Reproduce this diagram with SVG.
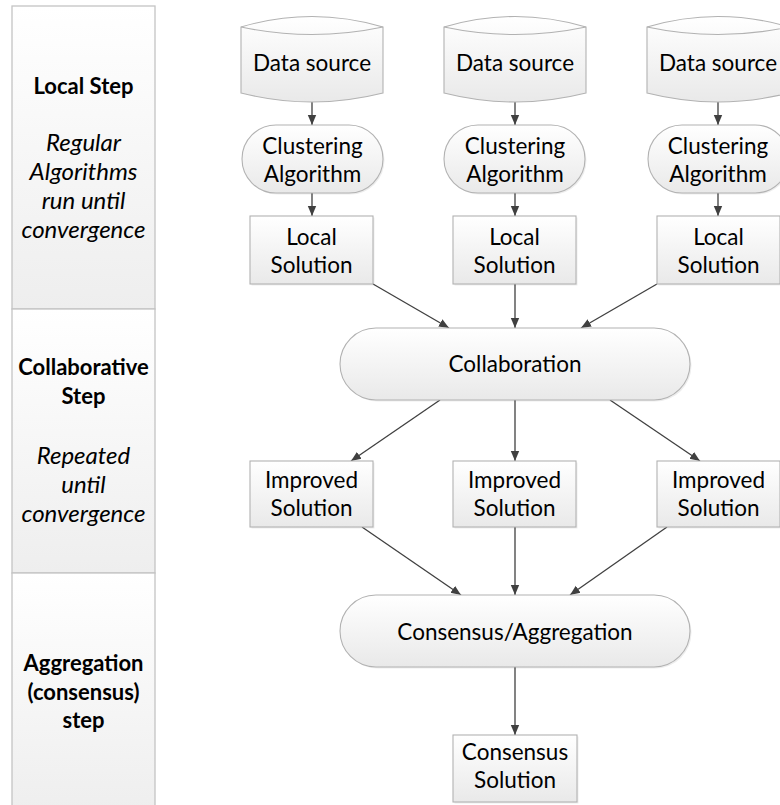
<svg xmlns="http://www.w3.org/2000/svg" width="780" height="805" viewBox="0 0 780 805">
  <defs>
    <linearGradient id="laneFill" x1="0" y1="0" x2="0" y2="1">
      <stop offset="0" stop-color="#ffffff"/>
      <stop offset="1" stop-color="#eeeeee"/>
    </linearGradient>
    <linearGradient id="nodeFill" x1="0" y1="0" x2="0" y2="1">
      <stop offset="0" stop-color="#ffffff"/>
      <stop offset="1" stop-color="#e9e9e9"/>
    </linearGradient>
    <marker id="arrow" viewBox="0 0 10 10" refX="10" refY="5" markerWidth="10" markerHeight="10" markerUnits="userSpaceOnUse" orient="auto">
      <path d="M0,0.8 L10,5 L0,9.2 Z" fill="#404040"/>
    </marker>
  </defs>
  <style>
    .lane { fill: url(#laneFill); stroke: #c4c4c4; stroke-width: 1.3; }
    .node { fill: url(#nodeFill); stroke: #b2b2b2; stroke-width: 1.1; }
    .shadow { fill: #000000; opacity: 0.07; }
    .label { font-family: Lato, "Liberation Sans", sans-serif; font-size: 22.5px; fill: #000000; text-anchor: middle; }
    .head { font-weight: bold; font-size: 22px; }
    .note { font-style: italic; font-size: 24px; }
    .edge { stroke: #404040; stroke-width: 1.3; fill: none; marker-end: url(#arrow); }
  </style>

  <rect width="780" height="805" fill="#ffffff"/>

  <!-- step lanes on the left -->
  <g id="lane-local">
    <rect class="lane" x="12" y="6" width="143" height="303"/>
    <text class="label head" x="83.5" y="94">Local Step</text>
    <text class="label note" x="83.5" y="151">Regular</text>
    <text class="label note" x="83.5" y="180">Algorithms</text>
    <text class="label note" x="83.5" y="209">run until</text>
    <text class="label note" x="83.5" y="238">convergence</text>
  </g>
  <g id="lane-collab">
    <rect class="lane" x="12" y="309" width="143" height="264"/>
    <text class="label head" x="83.5" y="375">Collaborative</text>
    <text class="label head" x="83.5" y="404">Step</text>
    <text class="label note" x="83.5" y="464">Repeated</text>
    <text class="label note" x="83.5" y="493">until</text>
    <text class="label note" x="83.5" y="522">convergence</text>
  </g>
  <g id="lane-aggregate">
    <rect class="lane" x="12" y="573" width="143" height="240"/>
    <text class="label head" x="83.5" y="671">Aggregation</text>
    <text class="label head" x="83.5" y="700">(consensus)</text>
    <text class="label head" x="83.5" y="728">step</text>
  </g>

  <!-- connectors -->
  <g id="connectors">
    <line class="edge" x1="312" y1="102" x2="312" y2="125"/>
    <line class="edge" x1="515" y1="102" x2="515" y2="125"/>
    <line class="edge" x1="718" y1="102" x2="718" y2="125"/>
    <line class="edge" x1="312" y1="193" x2="312" y2="216"/>
    <line class="edge" x1="515" y1="193" x2="515" y2="216"/>
    <line class="edge" x1="718" y1="193" x2="718" y2="216"/>
    <line class="edge" x1="373" y1="284" x2="449" y2="328"/>
    <line class="edge" x1="515" y1="284" x2="515" y2="328"/>
    <line class="edge" x1="657" y1="284" x2="581" y2="328"/>
    <line class="edge" x1="440" y1="400" x2="351" y2="461"/>
    <line class="edge" x1="515" y1="400" x2="515" y2="461"/>
    <line class="edge" x1="610" y1="400" x2="700" y2="461"/>
    <line class="edge" x1="362" y1="527" x2="461" y2="595"/>
    <line class="edge" x1="515" y1="527" x2="515" y2="595"/>
    <line class="edge" x1="667" y1="527" x2="570" y2="595"/>
    <line class="edge" x1="515" y1="667" x2="515" y2="735"/>
  </g>

  <!-- data sources -->
  <g id="source-1">
    <path class="node" d="M241,27 Q312,6 383,27 L383,93 Q312,111 241,93 Z"/>
    <path d="M241,27 Q312,42 383,27" fill="none" stroke="#b2b2b2" stroke-width="1.1"/>
    <text class="label" x="312" y="71">Data source</text>
  </g>
  <g id="source-2">
    <path class="node" d="M444,27 Q515,6 586,27 L586,93 Q515,111 444,93 Z"/>
    <path d="M444,27 Q515,42 586,27" fill="none" stroke="#b2b2b2" stroke-width="1.1"/>
    <text class="label" x="515" y="71">Data source</text>
  </g>
  <g id="source-3">
    <path class="node" d="M647,27 Q718,6 789,27 L789,93 Q718,111 647,93 Z"/>
    <path d="M647,27 Q718,42 789,27" fill="none" stroke="#b2b2b2" stroke-width="1.1"/>
    <text class="label" x="718" y="71">Data source</text>
  </g>

  <!-- clustering algorithms -->
  <g id="cluster-1">
    <rect class="shadow" x="243.5" y="126.5" width="141" height="68" rx="34"/>
    <rect class="node" x="242" y="125" width="141" height="68" rx="34"/>
    <text class="label" x="312.5" y="154">Clustering</text>
    <text class="label" x="312.5" y="182">Algorithm</text>
  </g>
  <g id="cluster-2">
    <rect class="shadow" x="445.5" y="126.5" width="141" height="68" rx="34"/>
    <rect class="node" x="444" y="125" width="141" height="68" rx="34"/>
    <text class="label" x="515" y="154">Clustering</text>
    <text class="label" x="515" y="182">Algorithm</text>
  </g>
  <g id="cluster-3">
    <rect class="shadow" x="649.5" y="126.5" width="141" height="68" rx="34"/>
    <rect class="node" x="648" y="125" width="141" height="68" rx="34"/>
    <text class="label" x="718" y="154">Clustering</text>
    <text class="label" x="718" y="182">Algorithm</text>
  </g>

  <!-- local solutions -->
  <g id="local-1">
    <rect class="shadow" x="251.5" y="217.5" width="123" height="68"/>
    <rect class="node" x="250" y="216" width="123" height="68"/>
    <text class="label" x="311.5" y="245">Local</text>
    <text class="label" x="311.5" y="273">Solution</text>
  </g>
  <g id="local-2">
    <rect class="shadow" x="454.5" y="217.5" width="123" height="68"/>
    <rect class="node" x="453" y="216" width="123" height="68"/>
    <text class="label" x="514.5" y="245">Local</text>
    <text class="label" x="514.5" y="273">Solution</text>
  </g>
  <g id="local-3">
    <rect class="shadow" x="658.5" y="217.5" width="123" height="68"/>
    <rect class="node" x="657" y="216" width="123" height="68"/>
    <text class="label" x="718.5" y="245">Local</text>
    <text class="label" x="718.5" y="273">Solution</text>
  </g>

  <!-- collaboration -->
  <g id="collaboration">
    <rect class="shadow" x="341.5" y="329.5" width="350" height="72" rx="36"/>
    <rect class="node" x="340" y="328" width="350" height="72" rx="36"/>
    <text class="label" x="515" y="372">Collaboration</text>
  </g>

  <!-- improved solutions -->
  <g id="improved-1">
    <rect class="shadow" x="251.5" y="462.5" width="123" height="66"/>
    <rect class="node" x="250" y="461" width="123" height="66"/>
    <text class="label" x="311.5" y="488">Improved</text>
    <text class="label" x="311.5" y="516">Solution</text>
  </g>
  <g id="improved-2">
    <rect class="shadow" x="454.5" y="462.5" width="123" height="66"/>
    <rect class="node" x="453" y="461" width="123" height="66"/>
    <text class="label" x="514.5" y="488">Improved</text>
    <text class="label" x="514.5" y="516">Solution</text>
  </g>
  <g id="improved-3">
    <rect class="shadow" x="658.5" y="462.5" width="123" height="66"/>
    <rect class="node" x="657" y="461" width="123" height="66"/>
    <text class="label" x="718.5" y="488">Improved</text>
    <text class="label" x="718.5" y="516">Solution</text>
  </g>

  <!-- aggregation -->
  <g id="aggregation">
    <rect class="shadow" x="341.5" y="596.5" width="350" height="72" rx="36"/>
    <rect class="node" x="340" y="595" width="350" height="72" rx="36"/>
    <text class="label" x="515" y="640">Consensus/Aggregation</text>
  </g>

  <!-- final result -->
  <g id="consensus-solution">
    <rect class="shadow" x="454.5" y="736.5" width="124" height="67"/>
    <rect class="node" x="453" y="735" width="124" height="67"/>
    <text class="label" x="515" y="760">Consensus</text>
    <text class="label" x="515" y="788">Solution</text>
  </g>
</svg>
